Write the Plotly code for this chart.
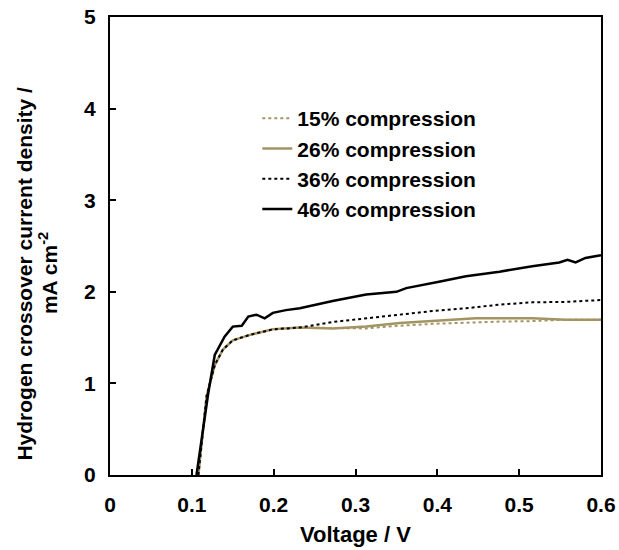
import plotly.graph_objects as go

# Data
x46 = [0.1057, 0.120, 0.128, 0.140, 0.150, 0.161, 0.169, 0.179, 0.189, 0.199, 0.215, 0.232,
       0.272, 0.313, 0.350, 0.362, 0.402, 0.435, 0.476, 0.516, 0.549, 0.559, 0.569, 0.581, 0.600]
y46 = [0.0, 0.89, 1.31, 1.51, 1.62, 1.63, 1.73, 1.75, 1.71, 1.77, 1.80, 1.82,
       1.90, 1.97, 2.00, 2.04, 2.11, 2.17, 2.22, 2.28, 2.32, 2.35, 2.32, 2.37, 2.40]

x_low = [0.108, 0.118, 0.128, 0.138, 0.150, 0.171, 0.199, 0.232]
y_low = [0.0, 0.86, 1.20, 1.37, 1.47, 1.53, 1.59, 1.61]

x36 = x_low + [0.272, 0.313, 0.354, 0.394, 0.435, 0.476, 0.516, 0.557, 0.600]
y36 = y_low + [1.67, 1.71, 1.75, 1.79, 1.82, 1.86, 1.885, 1.89, 1.91]

x26 = x_low + [0.272, 0.313, 0.354, 0.394, 0.447, 0.516, 0.557, 0.600]
y26 = y_low + [1.60, 1.62, 1.66, 1.685, 1.71, 1.71, 1.695, 1.695]

x15 = x_low + [0.313, 0.354, 0.394, 0.435, 0.476, 0.516, 0.557, 0.600]
y15 = y_low + [1.60, 1.63, 1.65, 1.665, 1.675, 1.68, 1.695, 1.695]

names = ["15% compression", "26% compression", "36% compression", "46% compression"]
x_title = "Voltage / V"
y_title_1 = "Hydrogen crossover current density /"
y_title_2 = "mA cm<sup>-2</sup>"
gold = "#a39463"

fig = go.Figure()
fig.add_trace(go.Scatter(x=x15, y=y15, mode="lines", name=names[0],
                         line=dict(color=gold, width=2, dash="dot")))
fig.add_trace(go.Scatter(x=x26, y=y26, mode="lines", name=names[1],
                         line=dict(color=gold, width=2.5)))
fig.add_trace(go.Scatter(x=x36, y=y36, mode="lines", name=names[2],
                         line=dict(color="black", width=2, dash="dot")))
fig.add_trace(go.Scatter(x=x46, y=y46, mode="lines", name=names[3],
                         line=dict(color="black", width=2.5)))

font_family = "Liberation Sans, Arial, sans-serif"
fig.update_layout(
    width=619, height=550,
    margin=dict(l=110, r=18, t=17, b=75, autoexpand=False),
    plot_bgcolor="white", paper_bgcolor="white",
    font=dict(family=font_family, size=20, color="black"),
    showlegend=True,
    legend=dict(x=0.30, y=0.823, xanchor="left", yanchor="top",
                font=dict(size=21, family=font_family, color="black", weight="bold"),
                bgcolor="rgba(0,0,0,0)", tracegroupgap=0),
    xaxis=dict(range=[0, 0.6], dtick=0.1, tickformat="~g", automargin=False,
               showline=True, linecolor="black", linewidth=2, mirror=True,
               ticks="inside", ticklen=6, tickwidth=2, tickcolor="black",
               showgrid=False, zeroline=False, ticklabelstandoff=10,
               tickfont=dict(size=21, weight="bold")),
    yaxis=dict(range=[0, 5], dtick=1, automargin=False,
               showline=True, linecolor="black", linewidth=2, mirror=True,
               ticks="inside", ticklen=6, tickwidth=2, tickcolor="black",
               showgrid=False, zeroline=False, ticklabelstandoff=8,
               tickfont=dict(size=21, weight="bold")),
    annotations=[
        dict(text="<b>" + x_title + "</b>", xref="paper", yref="paper",
             x=0.5, y=-0.131, xanchor="center", yanchor="middle",
             showarrow=False, font=dict(size=22)),
        dict(text="<b>" + y_title_1 + "</b>", xref="paper", yref="paper",
             x=-0.175, y=0.44, xanchor="center", yanchor="middle", textangle=-90,
             showarrow=False, font=dict(size=21)),
        dict(text="<b>" + y_title_2 + "</b>", xref="paper", yref="paper",
             x=-0.125, y=0.44, xanchor="center", yanchor="middle", textangle=-90,
             showarrow=False, font=dict(size=21)),
    ],
)

fig.write_html("out.html")
